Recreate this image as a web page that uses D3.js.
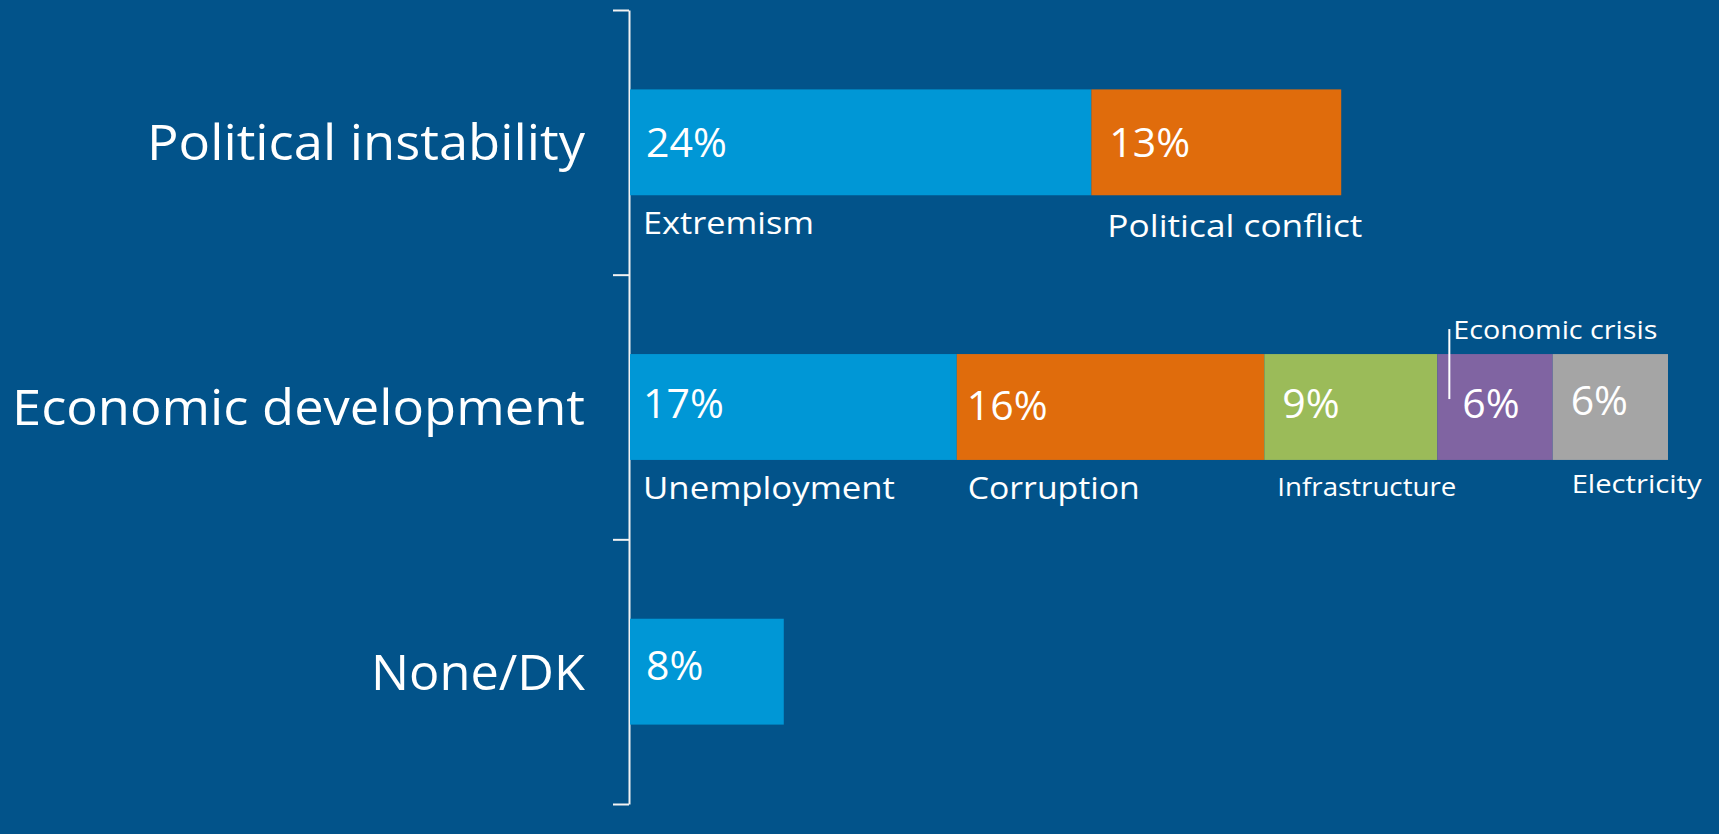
<!DOCTYPE html>
<html>
<head>
<meta charset="utf-8">
<script src="https://cdn.jsdelivr.net/npm/d3@7"></script>
<style>
  html, body { margin: 0; padding: 0; background: #02538A; overflow: hidden; }
  svg { display: block; }
  text { font-family: "Open Sans", "Noto Sans", sans-serif; fill: #ffffff; }
</style>
</head>
<body>
<svg id="chart" width="1719" height="834"></svg>
<script>
// ---------- data ----------
const categories = ["Political instability", "Economic development", "None/DK"];
const politicalNames = ["Extremism", "Political conflict"];
const politicalValues = [24, 13];
const economicNames = ["Unemployment", "Corruption", "Infrastructure", "Economic crisis", "Electricity"];
const economicValues = [17, 16, 9, 6, 6];
const noneNames = ["None/DK"];
const noneValues = [8];
const segmentColors = ["#0097D6", "#E06C0C", "#9BBB59", "#8064A2", "#A5A5A5"];

// ---------- styles (per-label placement tweaks) ----------
const pctStyle = {
  "Extremism": {dx: 16, dy: 14.5},
  "Political conflict": {dx: 18, dy: 14.5},
  "Unemployment": {dx: 13, dy: 11},
  "Corruption": {dx: 10, dy: 13},
  "Infrastructure": {dx: 18, dy: 11},
  "Economic crisis": {dx: 25, dy: 11},
  "Electricity": {dx: 18, dy: 8},
  "None/DK": {dx: 16, dy: 8}
};
const nameStyle = {
  "Extremism": {dx: 13, dy: 39, size: 31, len: 171, below: true},
  "Political conflict": {dx: 16, dy: 42, size: 31, len: 255, below: true},
  "Unemployment": {dx: 13, dy: 39, size: 31, len: 252, below: true},
  "Corruption": {dx: 11, dy: 39, size: 31, len: 172, below: true},
  "Infrastructure": {dx: 13, dy: 36, size: 25, len: 179, below: true},
  "Electricity": {dx: 19, dy: 33, size: 25, len: 130, below: true},
  "Economic crisis": {dx: 16, dy: -15, size: 25, len: 204, below: false, leader: true}
};
const catLen = {"Political instability": 438, "Economic development": 573, "None/DK": 214};

// ---------- build ----------
const rows = [
  {cat: categories[0], names: politicalNames, values: politicalValues},
  {cat: categories[1], names: economicNames, values: economicValues},
  {cat: categories[2], names: noneNames, values: noneValues}
];
const segments = [];
rows.forEach(r => {
  let acc = 0;
  r.values.forEach((v, i) => {
    segments.push({cat: r.cat, name: r.names[i], value: v, x0: acc, x1: acc + v, color: segmentColors[i]});
    acc += v;
  });
});
const maxTotal = d3.max(rows, r => d3.sum(r.values));

const svg = d3.select("#chart");
svg.append("rect").attr("width", 1719).attr("height", 834).attr("fill", "#02538A");

const x = d3.scaleLinear().domain([0, maxTotal]).range([630, 1668]);
const y = d3.scaleBand().domain(categories).range([10, 804]).paddingInner(0.6).paddingOuter(0.3);

// bracket axis with ticks at band boundaries
const yb = d3.scaleLinear().domain([0, categories.length]).range([10, 804]);
const axis = svg.append("g").attr("transform", "translate(629,0)")
  .call(d3.axisLeft(yb).tickValues(d3.range(categories.length + 1)).tickSize(16).tickSizeOuter(0).tickFormat(""));
axis.selectAll("path, line").attr("stroke", "#f2f2f2").attr("stroke-width", 2);

// category labels
svg.append("g").selectAll("text").data(categories).join("text")
  .attr("x", 585)
  .attr("y", d => y(d) + y.bandwidth() / 2 + 18)
  .attr("text-anchor", "end")
  .attr("font-size", 50)
  .attr("textLength", d => catLen[d])
  .attr("lengthAdjust", "spacingAndGlyphs")
  .text(d => d);

// bars
svg.append("g").selectAll("rect").data(segments).join("rect")
  .attr("x", d => x(d.x0))
  .attr("y", d => y(d.cat))
  .attr("width", d => x(d.x1) - x(d.x0))
  .attr("height", y.bandwidth())
  .attr("fill", d => d.color);

// percentage labels
svg.append("g").selectAll("text").data(segments).join("text")
  .attr("x", d => x(d.x0) + pctStyle[d.name].dx)
  .attr("y", d => y(d.cat) + y.bandwidth() / 2 + pctStyle[d.name].dy)
  .attr("font-size", 41)
  .text(d => d.value + "%");

// segment name labels
const named = segments.filter(d => nameStyle[d.name]);
svg.append("g").selectAll("text").data(named).join("text")
  .attr("x", d => x(d.x0) + nameStyle[d.name].dx)
  .attr("y", d => nameStyle[d.name].below ? y(d.cat) + y.bandwidth() + nameStyle[d.name].dy : y(d.cat) + nameStyle[d.name].dy)
  .attr("font-size", d => nameStyle[d.name].size)
  .attr("textLength", d => nameStyle[d.name].len)
  .attr("lengthAdjust", "spacingAndGlyphs")
  .text(d => d.name);

// leader line for label placed above the bar
svg.append("g").selectAll("line").data(named.filter(d => nameStyle[d.name].leader)).join("line")
  .attr("x1", d => x(d.x0) + 12).attr("x2", d => x(d.x0) + 12)
  .attr("y1", d => y(d.cat) - 25).attr("y2", d => y(d.cat) + 45)
  .attr("stroke", "#ffffff").attr("stroke-width", 2);
</script>
</body>
</html>
